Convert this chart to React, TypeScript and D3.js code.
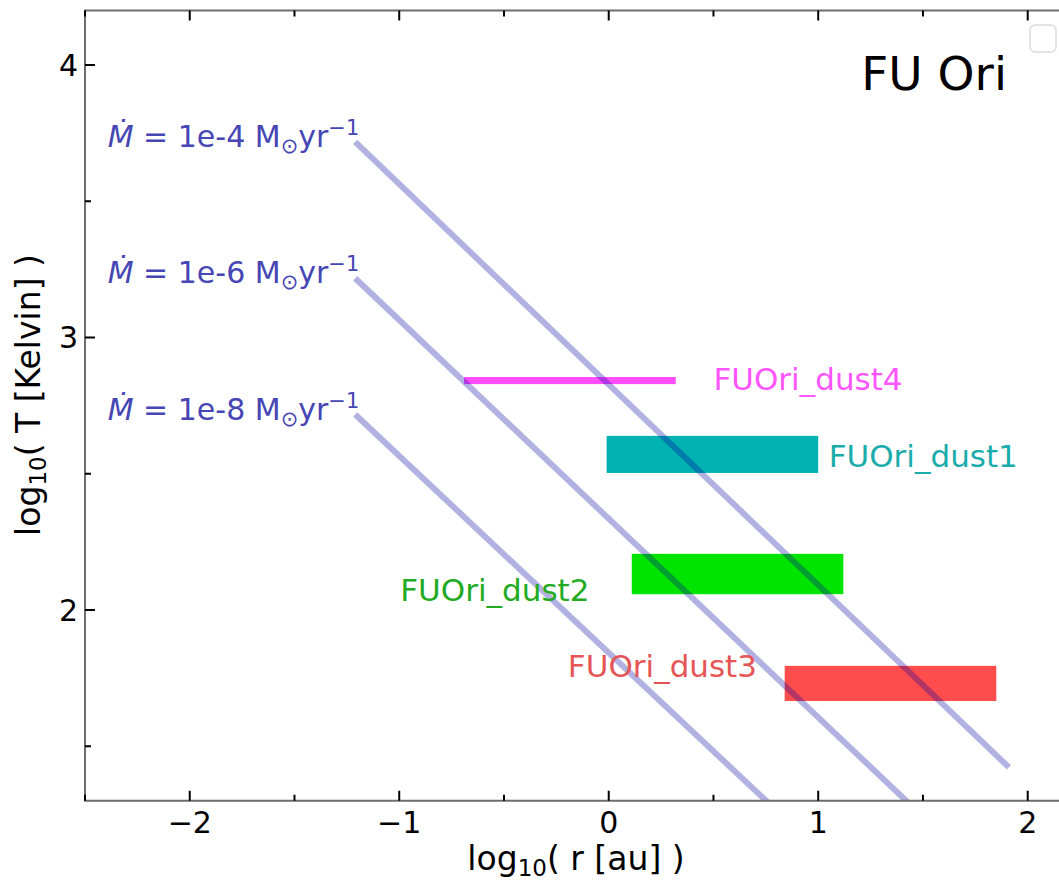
import React from "react";
import * as d3 from "d3";

// ---- data ----
const xTicksMajor = [-2, -1, 0, 1, 2];
const xTicksMinor = [-2.5, -1.5, -0.5, 0.5, 1.5];
const yTicksMajor = [2, 3, 4];
const yTicksMinor = [1.5, 2.5, 3.5];

const mdotLabels = ["1e-4", "1e-6", "1e-8"];
const mdotX = [-1.2, 1.9];
const mdotY1 = [3.71, 1.43];
const mdotY2 = [3.21, 0.95];
const mdotY3 = [2.71, 0.47];
const mdotYs = [mdotY1, mdotY2, mdotY3];

const dustNames = ["FUOri_dust4", "FUOri_dust1", "FUOri_dust2", "FUOri_dust3"];
const dustRmin = [-0.69, -0.01, 0.11, 0.84];
const dustRmax = [0.32, 1.0, 1.12, 1.85];
const dustTmin = [2.829, 2.503, 2.058, 1.666];
const dustTmax = [2.855, 2.639, 2.206, 1.795];
const dustLabelX = [0.5, 1.05, -0.995, -0.195];
const dustLabelY = [2.846, 2.565, 2.075, 1.795];
const dustFill = ["#ff4dff", "#00b2b2", "#00e400", "#ff4d4d"];
const dustText = ["#ff55ff", "#1aabab", "#22aa22", "#e55555"];

const W = 1059;
const H = 883;
const FONT = "DejaVu Sans";

export default function App() {
  const x = d3.scaleLinear().domain([-2.5, 2.2]).range([85, 1069.6]);
  const y = d3.scaleLinear().domain([1.3, 4.2]).range([800.75, 10.5]);
  const [x0, x1] = x.range();
  const [y0, y1] = y.range();
  const line = d3
    .line<[number, number]>()
    .x((d) => x(d[0]))
    .y((d) => y(d[1]));

  const spine = "#6e6e6e";
  return (
    <svg
      width={W}
      height={H}
      style={{ position: "absolute", left: 0, top: 0, background: "#fff" }}
      fontFamily={FONT}
    >
      <defs>
        <clipPath id="plotclip">
          <rect x={x0} y={y1} width={x1 - x0} height={y0 - y1} />
        </clipPath>
      </defs>
      <rect x={0} y={0} width={W} height={H} fill="#fff" />

      {/* dust bars */}
      <g clipPath="url(#plotclip)">
        {dustNames.map((n, i) => (
          <rect
            key={n}
            x={x(dustRmin[i])}
            y={y(dustTmax[i])}
            width={x(dustRmax[i]) - x(dustRmin[i])}
            height={y(dustTmin[i]) - y(dustTmax[i])}
            fill={dustFill[i]}
          />
        ))}
        {mdotYs.map((ys, i) => (
          <path
            key={i}
            d={line(mdotX.map((v, j) => [v, ys[j]] as [number, number])) || ""}
            stroke="rgb(0,0,160)"
            strokeOpacity={0.3}
            strokeWidth={6}
            strokeLinecap="square"
            fill="none"
          />
        ))}
      </g>

      {/* dust labels */}
      {dustNames.map((n, i) => (
        <text
          key={n}
          x={x(dustLabelX[i])}
          y={y(dustLabelY[i])}
          dominantBaseline="central"
          fontSize={31}
          fill={dustText[i]}
        >
          {n}
        </text>
      ))}

      {/* mdot labels */}
      {mdotLabels.map((lab, i) => (
        <text
          key={lab}
          x={x(mdotX[0]) + 2}
          y={y(mdotYs[i][0]) + 3}
          textAnchor="end"
          fontSize={30}
          fill="#4646b4"
        >
          <tspan fontStyle="italic">Ṁ</tspan>
          <tspan>{" = "}{lab} M</tspan>
          <tspan fontSize={21} dy={6}>⊙</tspan>
          <tspan dy={-6}>yr</tspan>
          <tspan fontSize={21} dy={-12}>−1</tspan>
        </text>
      ))}

      {/* FU Ori title */}
      <text x={1007} y={90} textAnchor="end" fontSize={47} fill="#000">
        FU Ori
      </text>

      {/* empty legend box */}
      <rect x={1030} y={25} width={26} height={27} rx={5} fill="#fff" stroke="#dcdcdc" strokeWidth={1.5} />

      {/* spines */}
      <rect x={x0} y={y1} width={x1 - x0} height={y0 - y1} fill="none" stroke={spine} strokeWidth={2} />

      {/* ticks */}
      {xTicksMajor.map((t) => (
        <g key={"xm" + t}>
          <line x1={x(t)} x2={x(t)} y1={y0} y2={y0 - 10} stroke="#000" strokeWidth={2} />
          <line x1={x(t)} x2={x(t)} y1={y1} y2={y1 + 10} stroke="#000" strokeWidth={2} />
          <text x={x(t)} y={822} textAnchor="middle" dominantBaseline="central" fontSize={30}>
            {t < 0 ? "\u2212" + Math.abs(t) : String(t)}
          </text>
        </g>
      ))}
      {xTicksMinor.map((t) => (
        <g key={"xn" + t}>
          <line x1={x(t)} x2={x(t)} y1={y0} y2={y0 - 6} stroke="#000" strokeWidth={2} />
          <line x1={x(t)} x2={x(t)} y1={y1} y2={y1 + 6} stroke="#000" strokeWidth={2} />
        </g>
      ))}
      {yTicksMajor.map((t) => (
        <g key={"ym" + t}>
          <line x1={x0} x2={x0 + 10} y1={y(t)} y2={y(t)} stroke="#000" strokeWidth={2} />
          <text x={78} y={y(t)} textAnchor="end" dominantBaseline="central" fontSize={30}>
            {String(t)}
          </text>
        </g>
      ))}
      {yTicksMinor.map((t) => (
        <line key={"yn" + t} x1={x0} x2={x0 + 6} y1={y(t)} y2={y(t)} stroke="#000" strokeWidth={2} />
      ))}

      {/* axis labels */}
      <text x={576} y={870} textAnchor="middle" fontSize={33}>
        log<tspan fontSize={23} dy={6}>10</tspan>
        <tspan dy={-6}>( r [au] )</tspan>
      </text>
      <text
        transform={`translate(40, 395) rotate(-90)`}
        textAnchor="middle"
        fontSize={33}
      >
        log<tspan fontSize={23} dy={6}>10</tspan>
        <tspan dy={-6}>( T [Kelvin] )</tspan>
      </text>
    </svg>
  );
}
